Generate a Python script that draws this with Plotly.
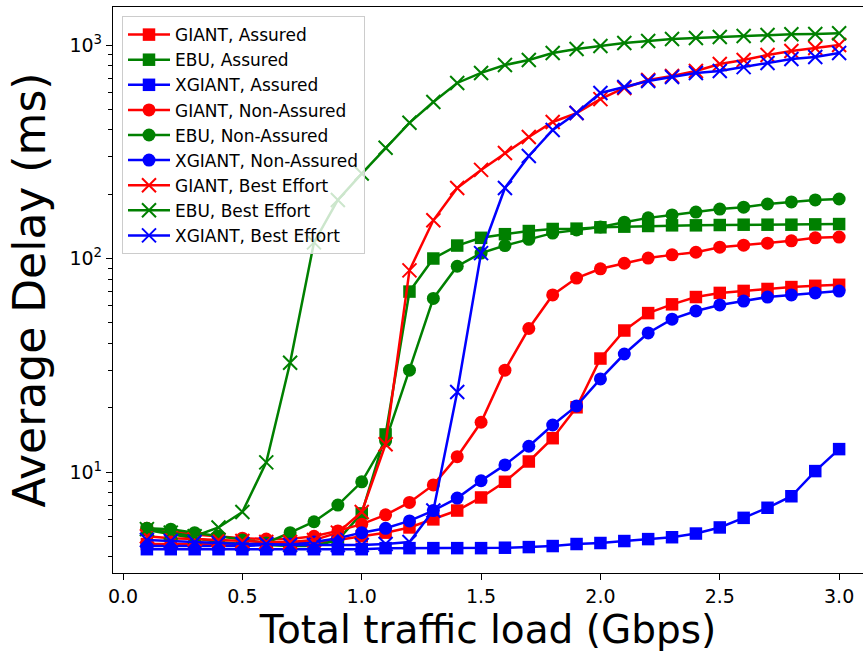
import plotly.graph_objects as go

load = [round(0.1 * i, 1) for i in range(1, 31)]

giant_assured = [4.6, 4.6, 4.6, 4.6, 4.6, 4.6, 4.6, 4.65, 4.8, 5.0,
                 5.2, 5.5, 6.0, 6.6, 7.6, 9.0, 11.2, 14.4, 20.1, 34.0,
                 46.0, 55.5, 61.0, 66.0, 69.0, 70.5, 72.0, 73.5, 74.5, 75.3]
ebu_assured = [5.35, 5.1, 4.9, 4.7, 4.6, 4.55, 4.5, 4.5, 4.8, 6.4,
               15.0, 70.0, 100.0, 115.0, 125.0, 130.0, 134.5, 137.5, 138.0, 140.0,
               141.0, 142.0, 143.0, 143.0, 143.5, 144.0, 144.0, 144.0, 144.5, 145.0]
xgiant_assured = [4.35, 4.35, 4.35, 4.35, 4.35, 4.35, 4.35, 4.35, 4.35, 4.35,
                  4.4, 4.4, 4.4, 4.4, 4.4, 4.42, 4.45, 4.5, 4.6, 4.65,
                  4.75, 4.85, 4.95, 5.15, 5.5, 6.1, 6.8, 7.7, 10.1, 12.8]
giant_nonassured = [5.45, 5.3, 5.1, 5.0, 4.9, 4.85, 4.85, 5.0, 5.3, 5.7,
                    6.3, 7.2, 8.7, 11.8, 17.1, 30.0, 47.0, 67.5, 81.0, 89.5,
                    95.0, 100.5, 104.0, 107.0, 113.0, 115.5, 118.0, 121.0, 125.0, 126.0]
ebu_nonassured = [5.45, 5.4, 5.2, 5.0, 4.8, 4.65, 5.2, 5.85, 7.0, 9.0,
                  14.0, 30.0, 65.0, 92.0, 106.0, 115.0, 123.0, 131.5, 136.0, 140.5,
                  148.0, 155.0, 160.0, 165.0, 170.5, 174.0, 180.0, 184.0, 188.0, 190.0]
xgiant_nonassured = [4.5, 4.5, 4.5, 4.5, 4.5, 4.55, 4.6, 4.7, 4.9, 5.2,
                     5.45, 5.9, 6.6, 7.55, 9.1, 10.8, 13.2, 16.6, 20.4, 27.3,
                     35.7, 44.8, 52.0, 56.8, 60.6, 63.2, 66.0, 67.5, 69.0, 70.4]
giant_besteffort = [5.0, 4.9, 4.85, 4.8, 4.75, 4.7, 4.7, 4.8, 5.2, 6.5,
                    13.5, 88.0, 151.0, 214.0, 260.0, 312.0, 371.0, 436.0, 480.0, 558.0,
                    629.0, 686.0, 716.0, 755.0, 815.0, 851.0, 898.0, 937.0, 968.0, 1000.0]
ebu_besteffort = [5.4, 5.2, 5.0, 5.5, 6.5, 11.1, 32.5, 119.0, 188.0, 250.0,
                  330.0, 432.0, 541.0, 664.0, 740.0, 806.0, 851.0, 918.0, 958.0, 989.0,
                  1021.0, 1044.0, 1067.0, 1079.0, 1090.0, 1102.0, 1114.0, 1122.0, 1126.0, 1135.0]
xgiant_besteffort = [4.8, 4.75, 4.7, 4.65, 4.6, 4.6, 4.55, 4.55, 4.55, 4.55,
                     4.6, 4.7, 6.6, 23.7, 106.0, 214.0, 302.0, 400.0, 480.0, 596.0,
                     636.0, 678.0, 708.0, 740.0, 755.0, 788.0, 824.0, 860.0, 879.0, 918.0]

series = [
    ("GIANT, Assured", giant_assured, "red", "square"),
    ("EBU, Assured", ebu_assured, "green", "square"),
    ("XGIANT, Assured", xgiant_assured, "blue", "square"),
    ("GIANT, Non-Assured", giant_nonassured, "red", "circle"),
    ("EBU, Non-Assured", ebu_nonassured, "green", "circle"),
    ("XGIANT, Non-Assured", xgiant_nonassured, "blue", "circle"),
    ("GIANT, Best Effort", giant_besteffort, "red", "x-thin"),
    ("EBU, Best Effort", ebu_besteffort, "green", "x-thin"),
    ("XGIANT, Best Effort", xgiant_besteffort, "blue", "x-thin"),
]
colors = {"red": "#ff0000", "green": "#008000", "blue": "#0000ff"}

fig = go.Figure()
for i, (name, vals, col, sym) in enumerate(series):
    c = colors[col]
    if sym == "x-thin":
        marker = dict(symbol=sym, size=14, color=c, line=dict(width=2, color=c))
    else:
        marker = dict(symbol=sym, size=12.5 if sym == "square" else 13, color=c, line=dict(width=0))
    fig.add_trace(go.Scatter(
        x=load, y=vals, name=name, mode="lines+markers",
        line=dict(color=c, width=2.5), marker=marker, legendgroup=f"g{i}",
    ))

font_family = "DejaVu Sans"
fig.update_layout(
    width=863, height=657,
    margin=dict(l=113, r=0, t=7, b=84),
    paper_bgcolor="white", plot_bgcolor="white",
    font=dict(family=font_family, color="black"),
    showlegend=True,
    legend=dict(
        x=0.012, y=0.984, xanchor="left", yanchor="top",
        bgcolor="rgba(255,255,255,0.8)", bordercolor="#cccccc", borderwidth=1,
        font=dict(family=font_family, size=17, color="black"),
        tracegroupgap=0, itemwidth=42,
    ),
    xaxis=dict(
        range=[-0.042, 3.100],
        tickvals=[0.0, 0.5, 1.0, 1.5, 2.0, 2.5, 3.0],
        ticktext=["0.0", "0.5", "1.0", "1.5", "2.0", "2.5", "3.0"],
        ticks="outside", ticklen=6, tickwidth=1.3, tickcolor="black",
        showline=True, linecolor="black", linewidth=1.3, mirror=True,
        showgrid=False, zeroline=False,
        tickfont=dict(size=19, family=font_family),
        title=dict(text="Total traffic load (Gbps)", font=dict(size=39, family=font_family), standoff=8),
    ),
    yaxis=dict(
        type="log", range=[0.527, 3.178],
        tickvals=[10, 100, 1000],
        ticktext=["10<sup>1</sup>", "10<sup>2</sup>", "10<sup>3</sup>"],
        ticks="outside", ticklen=6, tickwidth=1.3, tickcolor="black",
        minor=dict(
            tickvals=[4, 5, 6, 7, 8, 9, 20, 30, 40, 50, 60, 70, 80, 90,
                      200, 300, 400, 500, 600, 700, 800, 900],
            ticks="outside", ticklen=3.5, tickwidth=1, tickcolor="black", showgrid=False,
        ),
        showline=True, linecolor="black", linewidth=1.3, mirror=False,
        showgrid=False, zeroline=False,
        tickfont=dict(size=19, family=font_family),
        title=dict(text="Average Delay (ms)", font=dict(size=44, family=font_family), standoff=9),
    ),
)

fig.write_html("out.html")
